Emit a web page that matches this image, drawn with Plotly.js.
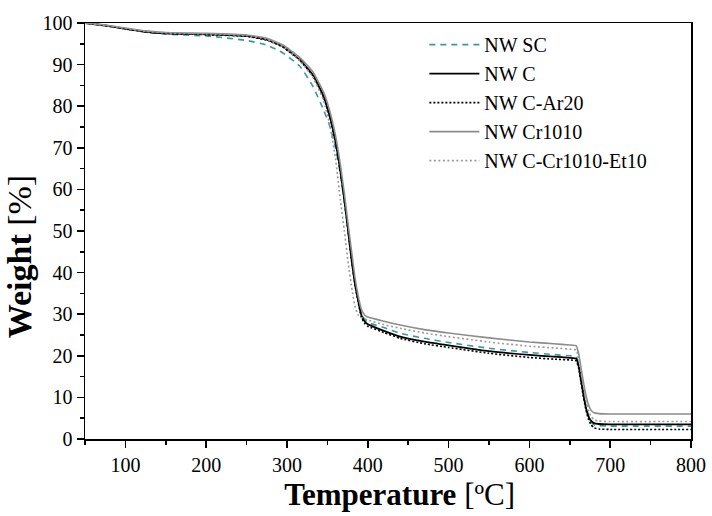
<!DOCTYPE html>
<html>
<head>
<meta charset="utf-8">
<script src="https://cdn.plot.ly/plotly-3.0.1.min.js"></script>
<style>html,body{margin:0;padding:0;background:#fff;}#chart{width:712px;height:516px;}</style>
</head>
<body>
<div id="chart"></div>
<script>
var temperature = [50, 75, 100, 125, 150, 200, 250, 275, 295, 316, 332, 345, 353, 360, 366, 371, 376, 380, 384, 388, 392, 396, 400, 420, 440, 470, 500, 550, 600, 630, 650, 658, 661, 664, 667, 670, 673, 676, 680, 686, 700, 800];

var nwSC = [100, 99.4, 98.6, 97.8, 97.3, 96.9, 95.8, 94.7, 92.8, 89.6, 84.8, 79.2, 75.2, 70.0, 63.8, 57.0, 49.2, 43, 37.5, 33.4, 29.9, 28.8, 28.0, 26.8, 25.4, 24.2, 23.2, 21.8, 20.8, 20.3, 20.0, 19.8, 18, 14.5, 11, 8, 5.5, 4.2, 3.4, 3.2, 3.1, 3.1];
var nwC = [100, 99.4, 98.6, 97.9, 97.5, 97.3, 96.9, 96.0, 94.3, 91.1, 87.5, 82.5, 77.5, 71.5, 64.5, 57.5, 49.5, 43, 37.5, 33.4, 29.8, 28.3, 27.6, 26.0, 24.6, 23.4, 22.5, 21.1, 20.2, 19.8, 19.5, 19.3, 17.5, 14, 10.5, 7.5, 5.5, 4.4, 3.8, 3.6, 3.5, 3.5];
var nwCAr20 = [100, 99.4, 98.6, 97.9, 97.5, 97.2, 96.8, 95.9, 94.2, 91.0, 87.3, 82.3, 77.3, 71.3, 64.3, 57.3, 49.3, 42.8, 37.2, 33.0, 29.3, 27.8, 27.1, 25.6, 24.2, 22.9, 22.0, 20.6, 19.6, 19.2, 19.0, 18.8, 17.0, 13.5, 10.0, 7.0, 4.8, 3.5, 2.7, 2.4, 2.3, 2.3];
var nwCr1010 = [100, 99.5, 98.8, 98.1, 97.7, 97.5, 97.1, 96.3, 94.7, 91.7, 88.3, 83.5, 78.8, 73, 66, 59, 51, 45, 39, 34.5, 31.2, 29.8, 29.3, 28.3, 27.4, 26.3, 25.5, 24.3, 23.3, 22.9, 22.6, 22.4, 20.5, 17, 13.5, 10.5, 8.3, 7.0, 6.3, 6.1, 6.0, 6.0];
var nwCCr1010Et10 = [100, 99.4, 98.7, 98.0, 97.6, 97.4, 97.0, 96.1, 94.3, 90.9, 87.0, 81.5, 75.5, 67.5, 57.5, 50, 42, 36.5, 32, 29.8, 29.2, 28.9, 28.6, 27.5, 26.6, 25.5, 24.6, 23.3, 22.3, 21.9, 21.6, 21.4, 19.5, 16, 12.5, 9.5, 7, 5.5, 4.6, 4.3, 4.2, 4.2];

var seriesNames = ['NW SC', 'NW C', 'NW C-Ar20', 'NW Cr1010', 'NW C-Cr1010-Et10'];
var seriesValues = [nwSC, nwC, nwCAr20, nwCr1010, nwCCr1010Et10];
var seriesStyles = [
  {color: '#3a9a94', width: 1.6, dash: '6px,5px'},
  {color: '#000000', width: 1.8, dash: 'solid'},
  {color: '#000000', width: 1.6, dash: '2px,2px'},
  {color: '#8c8c8c', width: 1.6, dash: 'solid'},
  {color: '#9a9a9a', width: 1.6, dash: '2px,2.5px'}
];

var traces = seriesNames.map(function(name, i) {
  return {
    x: temperature,
    y: seriesValues[i],
    name: name,
    type: 'scatter',
    mode: 'lines',
    line: {color: seriesStyles[i].color, width: seriesStyles[i].width, dash: seriesStyles[i].dash, shape: 'spline', smoothing: 0.4}
  };
});

var font = 'Liberation Serif, Times New Roman, serif';
var layout = {
  width: 712, height: 516,
  margin: {l: 85, r: 21, t: 23, b: 77},
  paper_bgcolor: '#fff', plot_bgcolor: '#fff',
  font: {family: font, color: '#000', size: 20},
  showlegend: true,
  legend: {x: 0.56, y: 0.995, xanchor: 'left', yanchor: 'top', bgcolor: 'rgba(0,0,0,0)', borderwidth: 0, font: {family: font, size: 20, color: '#000'}, itemwidth: 50, tracegroupgap: 0},
  xaxis: {
    range: [50, 800], dtick: 100, tick0: 0,
    showgrid: false, zeroline: false,
    showline: true, linecolor: '#000', linewidth: 1.5, mirror: true,
    ticks: 'outside', ticklen: 7, tickwidth: 1.5, tickcolor: '#000',
    minor: {dtick: 50, tick0: 0, ticks: 'outside', ticklen: 4, tickwidth: 1.5, tickcolor: '#000', showgrid: false},
    tickfont: {family: font, size: 20},
    title: {text: '&nbsp;&nbsp;&nbsp;<b>Temperature</b> [ºC]', font: {family: font, size: 31}, standoff: 9}
  },
  yaxis: {
    range: [0, 100], dtick: 10, tick0: 0,
    showgrid: false, zeroline: false,
    showline: true, linecolor: '#000', linewidth: 1.5, mirror: true,
    ticks: 'outside', ticklen: 7, tickwidth: 1.5, tickcolor: '#000',
    minor: {dtick: 5, tick0: 0, ticks: 'outside', ticklen: 4, tickwidth: 1.5, tickcolor: '#000', showgrid: false},
    tickfont: {family: font, size: 20},
    title: {text: '<b>Weight</b> [%]&nbsp;&nbsp;&nbsp;&nbsp;&nbsp;&nbsp;', font: {family: font, size: 34}, standoff: 0}
  }
};

Plotly.newPlot('chart', traces, layout, {displayModeBar: false, staticPlot: true});
</script>
</body>
</html>
